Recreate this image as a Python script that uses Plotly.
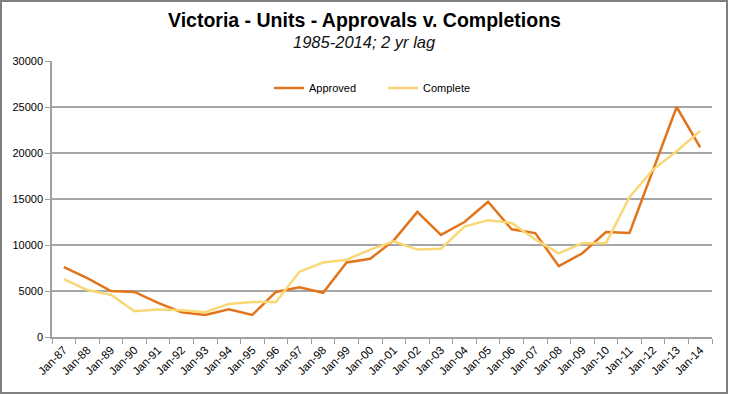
import plotly.graph_objects as go

categories = ["Jan-87","Jan-88","Jan-89","Jan-90","Jan-91","Jan-92","Jan-93","Jan-94","Jan-95","Jan-96",
              "Jan-97","Jan-98","Jan-99","Jan-00","Jan-01","Jan-02","Jan-03","Jan-04","Jan-05","Jan-06",
              "Jan-07","Jan-08","Jan-09","Jan-10","Jan-11","Jan-12","Jan-13","Jan-14"]
approved = [7600, 6400, 5000, 4900, 3700, 2700, 2400, 3000, 2400, 4900,
            5400, 4800, 8100, 8500, 10500, 13600, 11100, 12500, 14700, 11700,
            11300, 7700, 9100, 11400, 11300, 18200, 25000, 20600]
complete = [6300, 5100, 4600, 2800, 3000, 2900, 2700, 3600, 3800, 3800,
            7100, 8100, 8400, 9500, 10400, 9500, 9600, 12000, 12700, 12400,
            10600, 9100, 10200, 10200, 15200, 18200, 20200, 22400]

W, H = 729, 395
ml, mr, mt, mb = 52, 17, 61, 58
pw, ph = W - ml - mr, H - mt - mb

fig = go.Figure()
fig.add_trace(go.Scatter(x=categories, y=approved, name="Approved", mode="lines",
                         line=dict(color="#E2751C", width=2.5)))
fig.add_trace(go.Scatter(x=categories, y=complete, name="Complete", mode="lines",
                         line=dict(color="#FAD775", width=2.5)))

font = "Liberation Sans, Arial, sans-serif"
fig.update_layout(
    width=W, height=H,
    margin=dict(l=ml, r=mr, t=mt, b=mb, autoexpand=False),
    paper_bgcolor="white", plot_bgcolor="white",
    font=dict(family=font, size=11, color="black"),
    showlegend=True,
    legend=dict(orientation="h", x=(269 - ml) / pw, y=1 - (88 - mt) / ph,
                xanchor="left", yanchor="middle",
                font=dict(size=11), entrywidth=69, entrywidthmode="pixels",
                bgcolor="rgba(0,0,0,0)"),
    annotations=[
        dict(text="<b>Victoria - Units - Approvals v. Completions</b>", xref="paper", yref="paper",
             x=(364 - ml) / pw, y=1 + (mt - 20) / ph, xanchor="center", yanchor="middle",
             showarrow=False, font=dict(size=19.5, family=font, color="black")),
        dict(text="<i>1985-2014; 2 yr lag</i>", xref="paper", yref="paper",
             x=(364 - ml) / pw, y=1 + (mt - 42) / ph, xanchor="center", yanchor="middle",
             showarrow=False, font=dict(size=16.5, family=font, color="#111111")),
    ],
    shapes=[dict(type="rect", xref="paper", yref="paper",
                 x0=(1 - ml) / pw, x1=(727 - ml) / pw,
                 y0=1 + (mt - 1) / ph, y1=1 - (393 - mt) / ph,
                 line=dict(color="#7F7F7F", width=2))],
)
fig.update_xaxes(type="category", showgrid=False, showline=True, linecolor="#A0A0A0", linewidth=1.5,
                 ticks="outside", tickson="boundaries", ticklen=5, tickcolor="#A0A0A0",
                 tickangle=-45, tickfont=dict(size=11.5), range=[-0.5, 27.5], automargin=False)
fig.update_yaxes(range=[0, 30000], dtick=5000, showgrid=True, gridcolor="#A6A6A6", gridwidth=1.5,
                 showline=True, linecolor="#A0A0A0", linewidth=1.5, ticks="outside", ticklen=5,
                 tickcolor="#A0A0A0", tickfont=dict(size=11), zeroline=False, tickformat="d",
                 automargin=False)

fig.write_html("out.html", config={"displayModeBar": False},
               post_script="document.body.style.margin='0';")
